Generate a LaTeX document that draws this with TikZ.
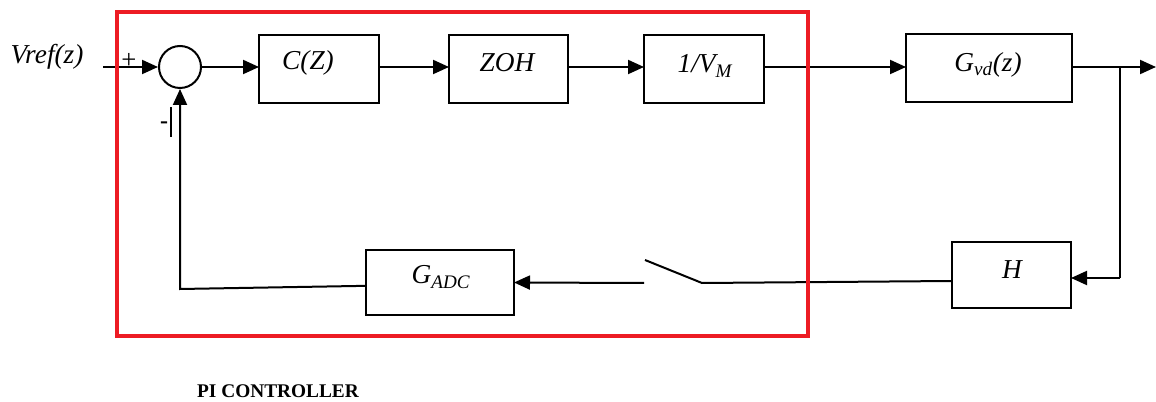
\documentclass[tikz,border=0pt]{standalone}
\usepackage{fontspec}
\setmainfont{Liberation Serif}
\usetikzlibrary{arrows.meta}
\definecolor{pired}{RGB}{237,28,36}
\begin{document}
\begin{tikzpicture}[x=0.75pt,y=-0.75pt,
  blk/.style={draw,line width=1.5pt,inner sep=0,outer sep=0},
  lab/.style={font=\fontsize{20.5}{24}\selectfont\itshape,inner sep=0},
  wire/.style={line width=1.5pt},
  arr/.style={wire,-{Triangle[length=12pt,width=10.5pt]}},
]
\useasboundingbox (0,0) rectangle (1156,402);
% blocks
\node[draw,circle,line width=1.5pt,minimum size=31.5pt,inner sep=0] (S) at (180,67) {};
\node[blk,minimum width=90pt,minimum height=51pt] (C) at (319,69) {};
\node[blk,minimum width=89.25pt,minimum height=51pt] (Z) at (508.5,69) {};
\node[blk,minimum width=90pt,minimum height=51pt] (V) at (704,69) {};
\node[blk,minimum width=124.5pt,minimum height=51pt] (G) at (989,68) {};
\node[blk,minimum width=111pt,minimum height=48.75pt] (A) at (440,282.5) {};
\node[blk,minimum width=89.25pt,minimum height=49.5pt] (H) at (1011.5,275) {};
% labels
\node[lab] (vref) at (47,57) {Vref(z)};
\node[lab] (lC) at (308,63) {C(Z)};
\node[lab] (lZ) at (507,63) {ZOH};
\node[lab] (lV) at (705,66) {1/V\textsubscript{M}};
\node[lab] (lG) at (988,65) {G\textsubscript{vd}(z)};
\node[lab] (lA) at (441,277) {G\textsubscript{ADC}};
\node[lab] (lH) at (1012,270) {H};
\node[font=\fontsize{20}{22}\selectfont,inner sep=0] (plus) at (129,61) {+};
\node[font=\fontsize{18}{20}\selectfont\bfseries,inner sep=0] (minus) at (164,125) {-};
\node[font=\fontsize{14.5}{16}\selectfont\bfseries,inner sep=0] (pc) at (278,391) {PI CONTROLLER};
% coordinates
\coordinate (in) at (103,67);
\coordinate (fbc) at (180,289);
\coordinate (swR) at (702,283);
\coordinate (swB) at (645,260);
\coordinate (swL) at (644,283);
\coordinate (out) at (1156,67);
\coordinate (br) at (1120,67);
\coordinate (brd) at (1120,278);
% connectors
\draw[arr] (in) -- (S.west);
\draw[arr] (S.east) -- (S.east -| C.west);
\draw[arr] (C.east |- S.east) -- (S.east -| Z.west);
\draw[arr] (Z.east |- S.east) -- (S.east -| V.west);
\draw[arr] (V.east |- S.east) -- (S.east -| G.west);
\draw[arr] (G.east |- out) -- (out);
\draw[wire] (br) -- (brd);
\draw[arr] (brd) -- (H.east |- brd);
\draw[wire] ([yshift=-4.5pt]H.west) -- (swR) -- (swB);
\draw[arr] (swL) -- (A.east);
\draw[arr] ([yshift=-2.5pt]A.west) -- (fbc) -- (S.south);
\draw[line width=2.2pt] (171,107) -- (171,137);
% PI controller frame
\draw[pired,line width=2.4pt] (117,12) rectangle (808,336);
\end{tikzpicture}
\end{document}
